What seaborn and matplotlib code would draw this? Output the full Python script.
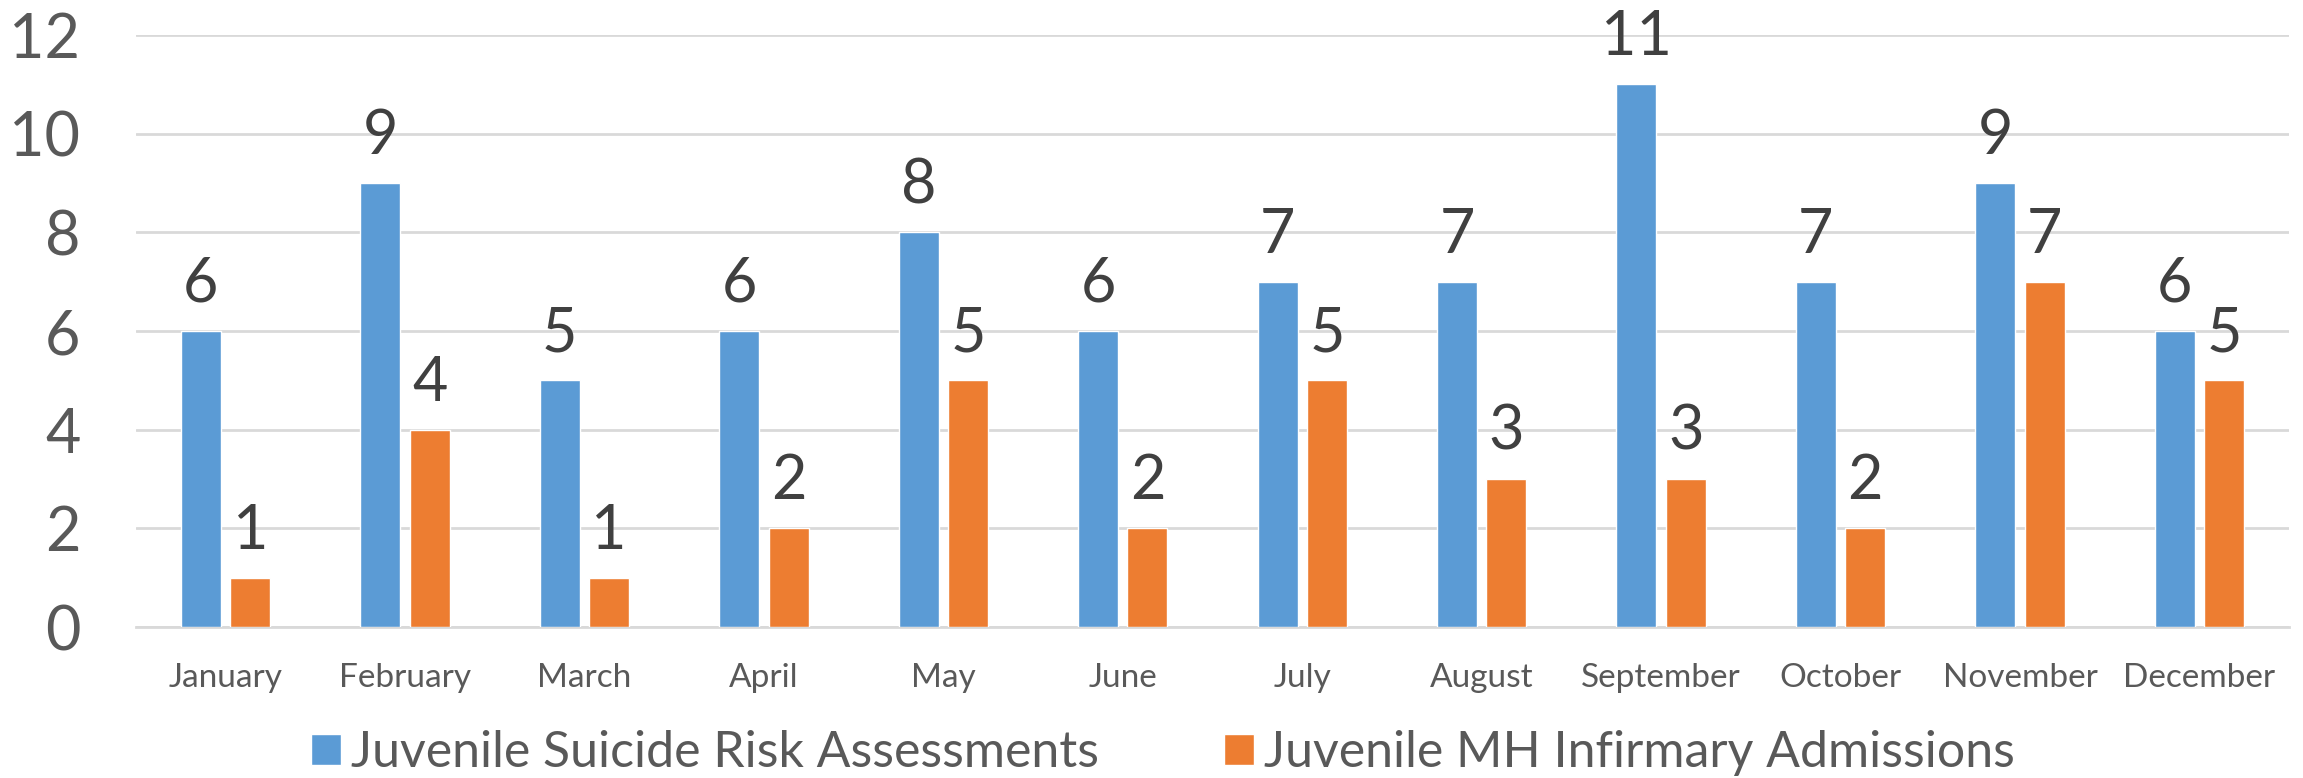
import matplotlib.pyplot as plt
import seaborn as sns
import pandas as pd

# Data
months = ['January', 'February', 'March', 'April', 'May', 'June',
          'July', 'August', 'September', 'October', 'November', 'December']
suicideRisk = [6, 9, 5, 6, 8, 6, 7, 7, 11, 7, 9, 6]
mhAdmissions = [1, 4, 1, 2, 5, 2, 5, 3, 3, 2, 7, 5]
seriesNames = ['Juvenile Suicide Risk Assessments', 'Juvenile MH Infirmary Admissions']

df = pd.concat([
    pd.DataFrame({'Month': months, 'Count': suicideRisk, 'Series': seriesNames[0]}),
    pd.DataFrame({'Month': months, 'Count': mhAdmissions, 'Series': seriesNames[1]}),
])

palette = dict(zip(seriesNames, ['#5B9BD5', '#ED7D31']))

sns.set_style('white')
plt.rcParams['font.family'] = ['Lato', 'DejaVu Sans']

fig = plt.figure(figsize=(23.03, 7.78), dpi=100)
ax = fig.add_axes([0.059, 0.194, 0.935, 0.761])

sns.barplot(ax=ax, data=df, x='Month', y='Count', hue='Series', order=months,
            hue_order=seriesNames, palette=palette, width=0.55, gap=0.19,
            saturation=1, zorder=3)

# value labels above each bar
for container in ax.containers:
    ax.bar_label(container, fontsize=44, color='#404040', padding=13)

ax.set_ylim(0, 12)
ax.set_yticks(range(0, 13, 2))
ax.yaxis.grid(True, color='#d9d9d9', linewidth=2, zorder=0)
ax.set_axisbelow(True)
for side in ['top', 'right', 'left']:
    ax.spines[side].set_visible(False)
ax.spines['bottom'].set_color('#d9d9d9')
ax.spines['bottom'].set_linewidth(2)
ax.tick_params(axis='y', labelsize=44, labelcolor='#595959', length=0, pad=40)
ax.tick_params(axis='x', labelsize=24, labelcolor='#595959', length=0, pad=26)
ax.set_xlabel('')
ax.set_ylabel('')

sns.move_legend(ax, 'center', bbox_to_anchor=(0.477, -0.213), ncol=2, frameon=False,
                title=None, fontsize=36, handlelength=0.6, handleheight=0.6,
                handletextpad=0.2, columnspacing=2.5)
for t in ax.get_legend().get_texts():
    t.set_color('#595959')

fig.savefig('out.png', dpi=100)
